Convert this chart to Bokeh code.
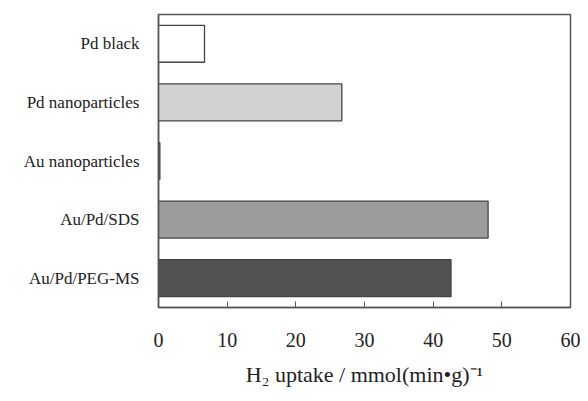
from bokeh.plotting import figure
from bokeh.embed import file_html
from bokeh.resources import INLINE
from bokeh.models import ColumnDataSource, FixedTicker

categories = ["Pd black", "Pd nanoparticles", "Au nanoparticles", "Au/Pd/SDS", "Au/Pd/PEG-MS"]
uptake = [6.7, 26.7, 0.2, 48.0, 42.6]
fills = ["#ffffff", "#d2d2d2", "#ffffff", "#9c9c9c", "#525252"]
x_ticks = [0, 10, 20, 30, 40, 50, 60]

src = ColumnDataSource(dict(cat=categories, val=uptake, fill=fills))

p = figure(y_range=list(reversed(categories)), x_range=(0, 60),
           width=580, height=393, output_backend="svg", toolbar_location=None,
           min_border_left=158, min_border_right=10, min_border_top=14, min_border_bottom=86)
p.y_range.range_padding = 0

p.hbar(y="cat", right="val", left=0, height=0.63, source=src,
       fill_color="fill", line_color="#444444", line_width=1.3)

p.xgrid.visible = False
p.ygrid.visible = False
p.outline_line_color = "#555555"
p.outline_line_width = 1.5
p.background_fill_color = "#ffffff"
p.border_fill_color = "#ffffff"

font = "Liberation Serif"
p.xaxis.ticker = FixedTicker(ticks=x_ticks)
p.xaxis.major_tick_in = 6
p.xaxis.major_tick_out = 0
p.xaxis.minor_tick_line_color = None
p.xaxis.axis_line_color = "#555555"
p.xaxis.axis_line_width = 1.5
p.xaxis.major_tick_line_color = "#555555"
p.xaxis.major_label_text_font = font
p.xaxis.major_label_text_font_size = "20px"
p.xaxis.major_label_text_color = "#222222"
p.xaxis.major_label_standoff = 25
p.xaxis.axis_label = "H\u2082 uptake / mmol(min\u2022g)\u207b\u00b9"
p.xaxis.axis_label_text_font = font
p.xaxis.axis_label_text_font_size = "22px"
p.xaxis.axis_label_text_font_style = "normal"
p.xaxis.axis_label_text_color = "#222222"
p.xaxis.axis_label_standoff = 12

p.yaxis.major_tick_line_color = None
p.yaxis.minor_tick_line_color = None
p.yaxis.axis_line_color = "#555555"
p.yaxis.axis_line_width = 1.5
p.yaxis.major_label_text_font = font
p.yaxis.major_label_text_font_size = "17px"
p.yaxis.major_label_text_color = "#222222"
p.yaxis.major_label_standoff = 13

open("out.html", "w").write(file_html(p, INLINE))
